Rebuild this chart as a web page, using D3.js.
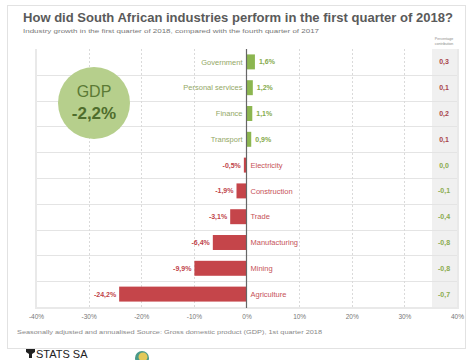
<!DOCTYPE html>
<html>
<head>
<meta charset="utf-8">
<script src="https://cdn.jsdelivr.net/npm/d3@7"></script>
<style>
	body { margin: 0; background: #fff; }
	text { font-family: "Liberation Sans", Arial, sans-serif; }
</style>
</head>
<body>
<script>
const industries = ['Government', 'Personal services', 'Finance', 'Transport', 'Electricity',
	'Construction', 'Trade', 'Manufacturing', 'Mining', 'Agriculture'];
const growth = [1.6, 1.2, 1.1, 0.9, -0.5, -1.9, -3.1, -6.4, -9.9, -24.2];
const contribution = [0.3, 0.1, 0.2, 0.1, 0.0, -0.1, -0.4, -0.8, -0.8, -0.7];
const xTicks = [-40, -30, -20, -10, 0, 10, 20, 30, 40];

const W = 470;
const H = 360;
const green = '#8cb650';
const red = '#c5454a';
// comma decimals, plain hyphen for minus
const fmt = v => d3.format('.1f')(v).replace('.', ',').replace('\u2212', '-');

const svg = d3
	.select('body')
	.append('svg')
	.attr('width', W)
	.attr('height', H);

// card
svg
	.append('rect')
	.attr('x', 7.5)
	.attr('y', 5.5)
	.attr('width', 458)
	.attr('height', 343)
	.attr('fill', '#fff')
	.attr('stroke', '#e2e2e2');

svg
	.append('text')
	.attr('x', 23)
	.attr('y', 22)
	.attr('font-size', 13)
	.attr('font-weight', 'bold')
	.attr('fill', '#5a5a5a')
	.attr('textLength', 430)
	.attr('lengthAdjust', 'spacingAndGlyphs')
	.text('How did South African industries perform in the first quarter of 2018?');

svg
	.append('text')
	.attr('x', 23)
	.attr('y', 33)
	.attr('font-size', 6)
	.attr('fill', '#777')
	.attr('textLength', 296)
	.attr('lengthAdjust', 'spacingAndGlyphs')
	.text('Industry growth in the first quarter of 2018, compared with the fourth quarter of 2017');

const x = d3.scaleLinear().domain([-40, 40]).range([36, 457]);
const rows = d3.scaleBand().domain(industries).range([49, 307]);
const bars = d3.scaleBand().domain(industries).range([49, 307]).paddingInner(0.42).paddingOuter(0.21);

const plot = svg.append('g');

// plot frame with slight shadow
plot
	.append('rect')
	.attr('x', 35)
	.attr('y', 49)
	.attr('width', 424)
	.attr('height', 260)
	.attr('fill', '#e9e9e9');
plot
	.append('rect')
	.attr('x', 37)
	.attr('y', 49)
	.attr('width', 420)
	.attr('height', 258)
	.attr('fill', '#fff');

// contribution column
plot
	.append('rect')
	.attr('x', 432)
	.attr('y', 49)
	.attr('width', 25)
	.attr('height', 258)
	.attr('fill', '#f0f0f0');

svg
	.append('text')
	.attr('x', 444)
	.attr('y', 40)
	.attr('text-anchor', 'middle')
	.attr('font-size', 3.6)
	.attr('fill', '#888')
	.text('Percentage');
svg
	.append('text')
	.attr('x', 444)
	.attr('y', 44.5)
	.attr('text-anchor', 'middle')
	.attr('font-size', 3.6)
	.attr('fill', '#888')
	.text('contribution');

// row lines
plot
	.selectAll('line.row')
	.data(industries.slice(1))
	.enter()
	.append('line')
	.attr('class', 'row')
	.attr('x1', 37)
	.attr('x2', 457)
	.attr('y1', d => Math.round(rows(d)) + 0.5)
	.attr('y2', d => Math.round(rows(d)) + 0.5)
	.attr('stroke', '#e4e4e4');

// vertical gridlines
plot
	.selectAll('line.grid')
	.data(xTicks.filter(d => d > -40 && d < 40 && d !== 0))
	.enter()
	.append('line')
	.attr('class', 'grid')
	.attr('x1', d => Math.round(x(d)) + 0.5)
	.attr('x2', d => Math.round(x(d)) + 0.5)
	.attr('y1', 49)
	.attr('y2', 307)
	.attr('stroke', '#dadada')
	.attr('stroke-dasharray', '2,2');

// GDP bubble
svg
	.append('circle')
	.attr('cx', 94)
	.attr('cy', 103)
	.attr('r', 36)
	.attr('fill', '#b6cf8c');
svg
	.append('text')
	.attr('x', 94)
	.attr('y', 97)
	.attr('text-anchor', 'middle')
	.attr('font-size', 16)
	.attr('fill', '#5b7a35')
	.text('GDP');
svg
	.append('text')
	.attr('x', 94)
	.attr('y', 119)
	.attr('text-anchor', 'middle')
	.attr('font-size', 17)
	.attr('font-weight', 'bold')
	.attr('fill', '#4f6d2c')
	.text('-2,2%');

const data = industries.map((name, i) => ({ name, value: growth[i], contrib: contribution[i] }));

plot
	.selectAll('rect.bar')
	.data(data)
	.enter()
	.append('rect')
	.attr('class', 'bar')
	.attr('x', d => x(Math.min(0, d.value)))
	.attr('y', d => bars(d.name))
	.attr('width', d => Math.abs(x(d.value) - x(0)))
	.attr('height', bars.bandwidth())
	.attr('fill', d => (d.value >= 0 ? green : red));

// zero line
plot
	.append('line')
	.attr('x1', x(0))
	.attr('x2', x(0))
	.attr('y1', 49)
	.attr('y2', 308)
	.attr('stroke', '#666')
	.attr('stroke-width', 1.2);

const mid = d => rows(d.name) + rows.bandwidth() / 2;

// value labels
plot
	.selectAll('text.val')
	.data(data)
	.enter()
	.append('text')
	.attr('class', 'val')
	.attr('x', d => (d.value >= 0 ? x(d.value) + 4 : x(d.value) - 3))
	.attr('y', mid)
	.attr('dy', '0.35em')
	.attr('text-anchor', d => (d.value >= 0 ? 'start' : 'end'))
	.attr('font-size', 7)
	.attr('font-weight', 'bold')
	.attr('fill', d => (d.value >= 0 ? '#86aa4c' : '#c0444a'))
	.text(d => fmt(d.value) + '%');

// category labels
plot
	.selectAll('text.cat')
	.data(data)
	.enter()
	.append('text')
	.attr('class', 'cat')
	.attr('x', d => (d.value >= 0 ? x(0) - 4 : x(0) + 4))
	.attr('y', mid)
	.attr('dy', '0.35em')
	.attr('text-anchor', d => (d.value >= 0 ? 'end' : 'start'))
	.attr('font-size', 7.5)
	.attr('fill', d => (d.value >= 0 ? '#93a866' : '#c65258'))
	.text(d => d.name);

// contribution values
plot
	.selectAll('text.contrib')
	.data(data)
	.enter()
	.append('text')
	.attr('class', 'contrib')
	.attr('x', 444)
	.attr('y', mid)
	.attr('dy', '0.35em')
	.attr('text-anchor', 'middle')
	.attr('font-size', 7)
	.attr('font-weight', 'bold')
	.attr('fill', d => (d.contrib > 0 ? '#a8434a' : '#8aab4e'))
	.text(d => fmt(d.contrib));

// x axis
const xAxis = d3
	.axisBottom(x)
	.tickValues(xTicks)
	.tickSize(0)
	.tickPadding(0)
	.tickFormat(d => d + '%');

svg
	.append('g')
	.attr('transform', 'translate(0,314)')
	.call(xAxis)
	.call(g => g.select('.domain').remove())
	.call(g => g.selectAll('text').attr('font-size', 6.5).attr('fill', '#777').attr('font-family', '"Liberation Sans", Arial, sans-serif'));

svg
	.append('text')
	.attr('x', 17)
	.attr('y', 334)
	.attr('font-size', 5.5)
	.attr('fill', '#888')
	.attr('textLength', 305)
	.attr('lengthAdjust', 'spacingAndGlyphs')
	.text('Seasonally adjusted and annualised    Source: Gross domestic product (GDP), 1st quarter 2018');

// footer logos
svg
	.append('path')
	.attr('d', 'M26,349 h9 v3 l-3,2 v4 h-3 v-4 l-3,-2 z')
	.attr('fill', '#222');
svg
	.append('text')
	.attr('x', 36)
	.attr('y', 358)
	.attr('font-size', 11)
	.attr('fill', '#222')
	.text('STATS SA');
svg
	.append('circle')
	.attr('cx', 142)
	.attr('cy', 358)
	.attr('r', 7)
	.attr('fill', '#4a9a8a');
svg
	.append('circle')
	.attr('cx', 143)
	.attr('cy', 357)
	.attr('r', 4.5)
	.attr('fill', '#e3c95a');
</script>
</body>
</html>
